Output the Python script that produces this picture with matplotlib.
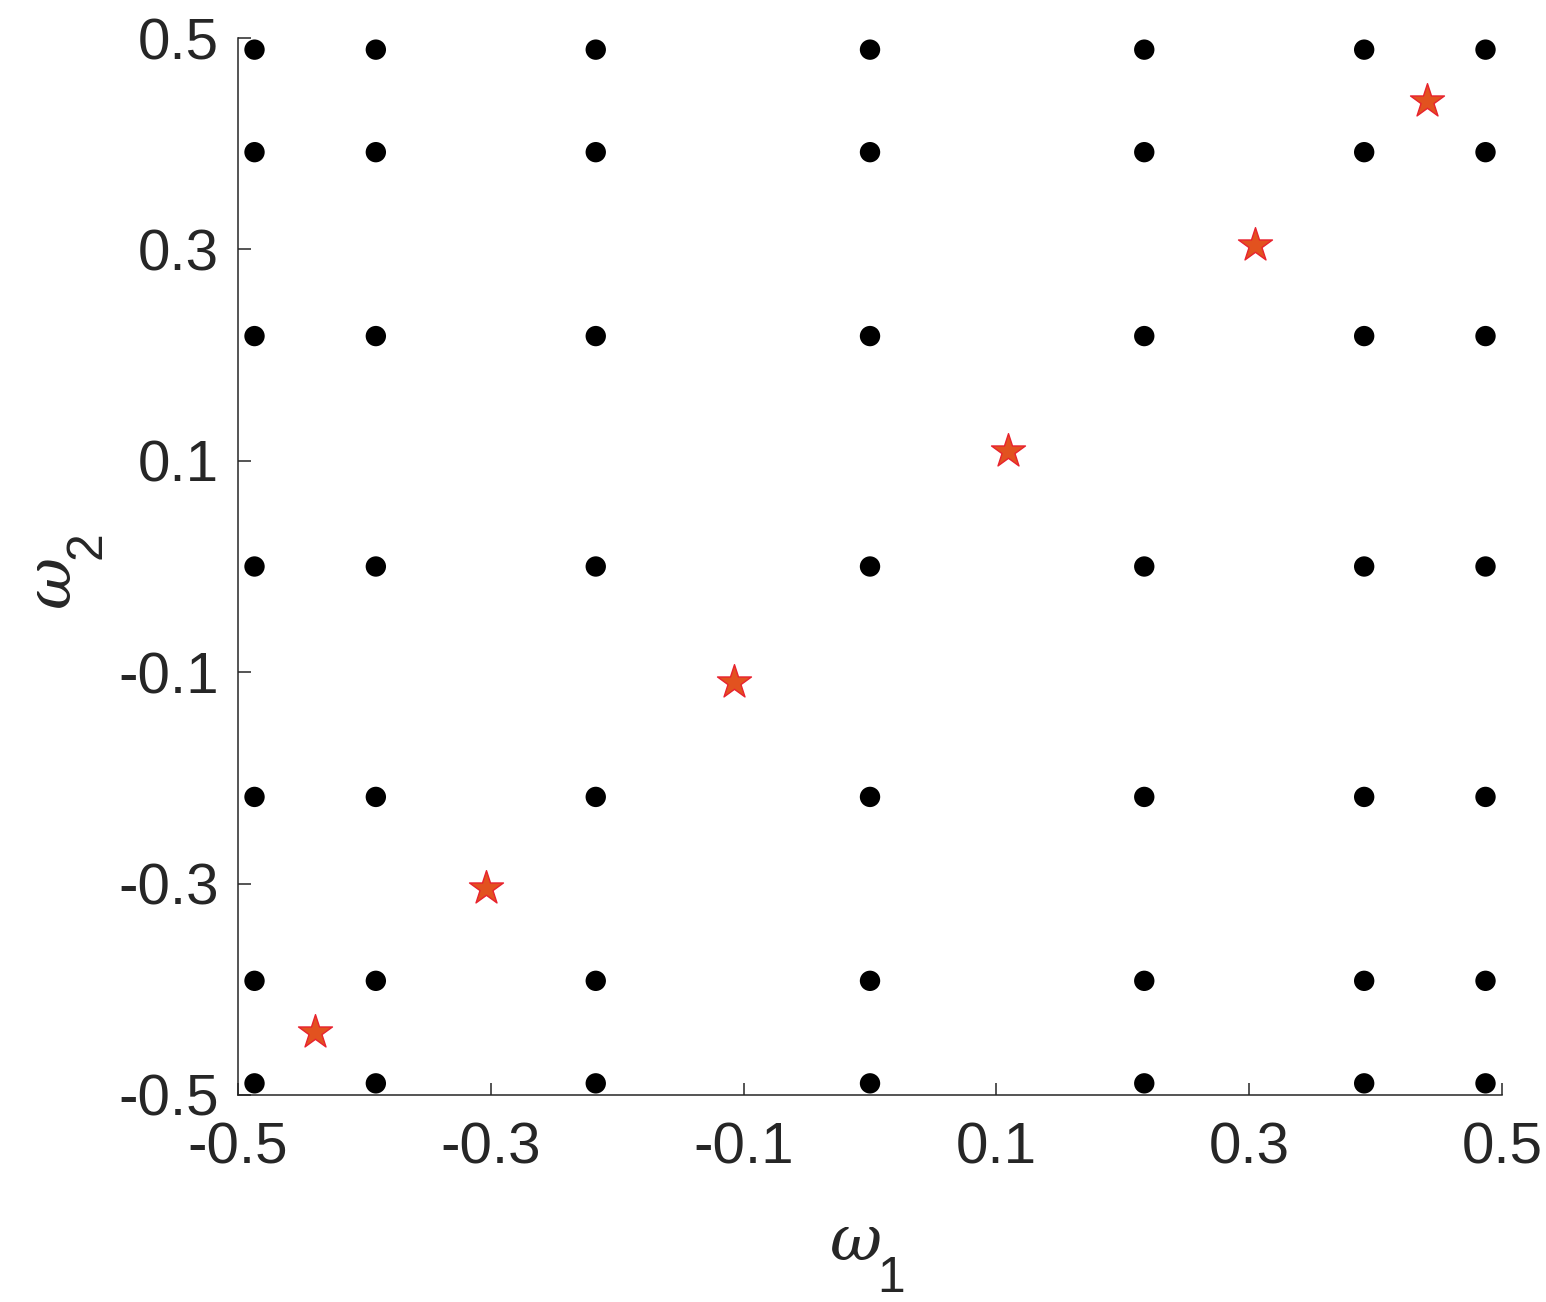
import matplotlib
matplotlib.use("Agg")
import matplotlib.pyplot as plt

# grid node coordinates (same set on both axes)
NODES_W1 = [-0.487, -0.391, -0.217, 0.0, 0.217, 0.391, 0.487]
NODES_W2 = [-0.489, -0.392, -0.218, 0.0, 0.218, 0.392, 0.489]
# red star points
STAR_W1 = [-0.439, -0.304, -0.108, 0.109, 0.305, 0.441]
STAR_W2 = [-0.440, -0.304, -0.109, 0.109, 0.304, 0.440]
TICKS = [-0.5, -0.3, -0.1, 0.1, 0.3, 0.5]
TICK_LABELS = ["-0.5", "-0.3", "-0.1", "0.1", "0.3", "0.5"]

TXT = "#262626"
plt.rcParams["font.family"] = ["Liberation Sans", "DejaVu Sans"]

fig = plt.figure(figsize=(15.46, 13.02), dpi=100)
ax = fig.add_axes([0.154, 0.159, 0.8175, 0.8118])

gx = [x for y in NODES_W2 for x in NODES_W1]
gy = [y for y in NODES_W2 for x in NODES_W1]
ax.scatter(gx, gy, s=215, c="black", edgecolors="none", zorder=3, clip_on=False)
ax.scatter(STAR_W1, STAR_W2, s=660, marker="*", facecolor="#E2521F",
           edgecolors="#E8222E", linewidths=1.0, zorder=4, clip_on=False)

ax.set_xlim(-0.5, 0.5)
ax.set_ylim(-0.5, 0.5)
ax.set_xticks(TICKS)
ax.set_xticklabels(TICK_LABELS)
ax.set_yticks(TICKS)
ax.set_yticklabels(TICK_LABELS)
ax.tick_params(direction="in", length=9, width=1.1, color=TXT, labelcolor=TXT,
               labelsize=42)
ax.tick_params(axis="x", pad=19)
ax.tick_params(axis="y", pad=14)
for s in ("top", "right"):
    ax.spines[s].set_visible(False)
for s in ("left", "bottom"):
    ax.spines[s].set_color(TXT)
    ax.spines[s].set_linewidth(1.1)

# axis labels: omega with a large subscript, as in the source
om = dict(family=["DejaVu Serif", "DejaVu Sans"], style="italic", color=TXT, fontsize=46)
ax.text(0.488, -0.140, "ω", transform=ax.transAxes, ha="center", va="center", **om)
ax.text(0.517, -0.174, "1", transform=ax.transAxes, ha="center", va="center",
        color=TXT, fontsize=36)
ax.text(-0.147, 0.485, "ω", transform=ax.transAxes, ha="center", va="center",
        rotation=90, **om)
ax.text(-0.119, 0.520, "2", transform=ax.transAxes, ha="center", va="center",
        rotation=90, color=TXT, fontsize=36)

fig.savefig("out.png", dpi=100)
